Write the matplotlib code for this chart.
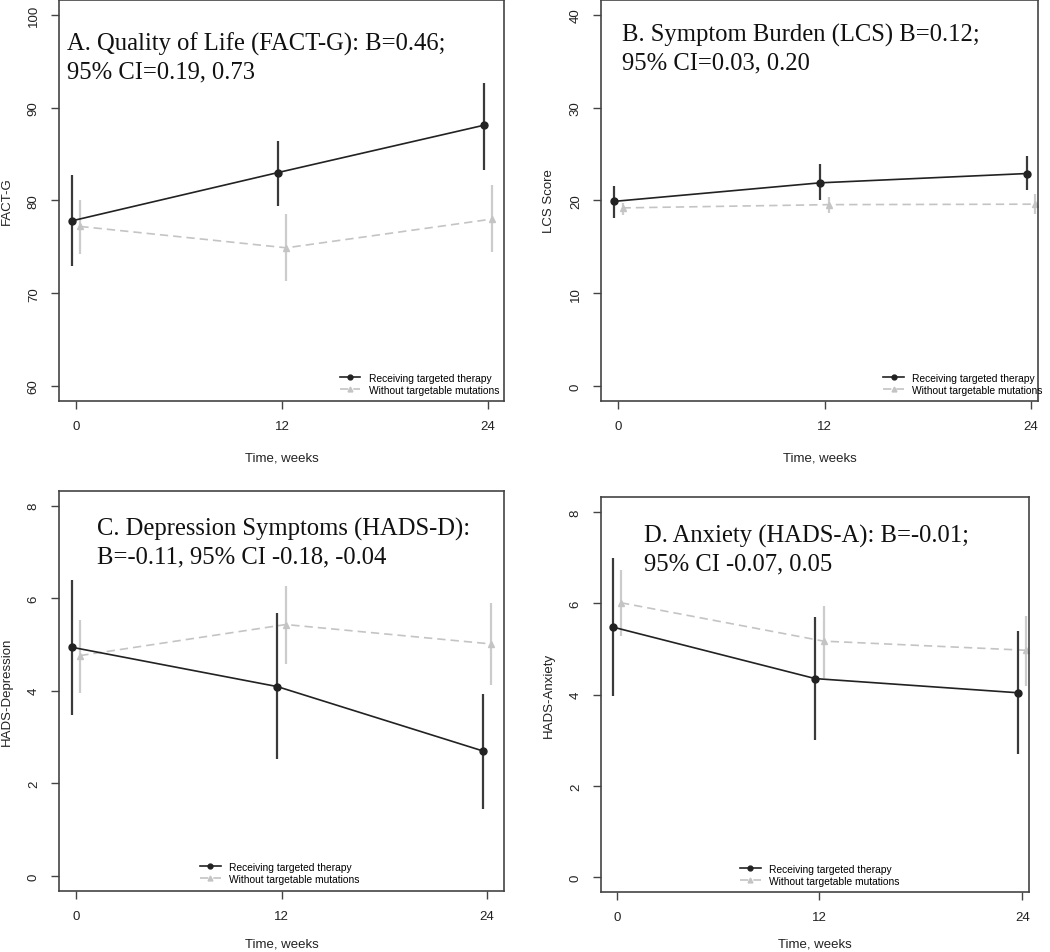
import matplotlib
matplotlib.use("Agg")
import matplotlib.pyplot as plt
import numpy as np

plt.rcParams['font.family'] = ['Liberation Sans', 'DejaVu Sans']

weeks = np.array([0, 12, 24])
labels = ['Receiving targeted therapy', 'Without targetable mutations']

# A. FACT-G
qol_tt = [77.8, 83.0, 88.1]
qol_tt_lo = [72.9, 79.4, 83.3]
qol_tt_hi = [82.7, 86.4, 92.7]
qol_wo = [77.2, 74.9, 78.0]
qol_wo_lo = [74.2, 71.3, 74.4]
qol_wo_hi = [80.0, 78.5, 81.7]

# B. LCS
lcs_tt = [19.9, 21.9, 22.9]
lcs_tt_lo = [18.1, 20.0, 21.1]
lcs_tt_hi = [21.6, 23.9, 24.8]
lcs_wo = [19.2, 19.55, 19.6]
lcs_wo_lo = [18.4, 18.65, 18.55]
lcs_wo_hi = [19.75, 20.4, 20.7]

# C. HADS-D
dep_tt = [4.94, 4.09, 2.70]
dep_tt_lo = [3.48, 2.52, 1.45]
dep_tt_hi = [6.40, 5.67, 3.92]
dep_wo = [4.76, 5.43, 5.01]
dep_wo_lo = [3.95, 4.58, 4.12]
dep_wo_hi = [5.52, 6.27, 5.90]

# D. HADS-A
anx_tt = [5.48, 4.35, 4.04]
anx_tt_lo = [3.97, 3.01, 2.69]
anx_tt_hi = [6.98, 5.70, 5.39]
anx_wo = [6.01, 5.17, 4.97]
anx_wo_lo = [5.28, 4.37, 4.19]
anx_wo_hi = [6.72, 5.95, 5.73]

titles = ['A. Quality of Life (FACT-G): B=0.46;\n95% CI=0.19, 0.73',
          'B. Symptom Burden (LCS) B=0.12;\n95% CI=0.03, 0.20',
          'C. Depression Symptoms (HADS-D):\nB=-0.11, 95% CI -0.18, -0.04',
          'D. Anxiety (HADS-A): B=-0.01;\n95% CI -0.07, 0.05']
ylabels = ['FACT-G', 'LCS Score', 'HADS-Depression', 'HADS-Anxiety']
yticks = [[60, 70, 80, 90, 100], [0, 10, 20, 30, 40], [0, 2, 4, 6, 8], [0, 2, 4, 6, 8]]

panels = [
    (qol_tt, qol_tt_lo, qol_tt_hi, qol_wo, qol_wo_lo, qol_wo_hi),
    (lcs_tt, lcs_tt_lo, lcs_tt_hi, lcs_wo, lcs_wo_lo, lcs_wo_hi),
    (dep_tt, dep_tt_lo, dep_tt_hi, dep_wo, dep_wo_lo, dep_wo_hi),
    (anx_tt, anx_tt_lo, anx_tt_hi, anx_wo, anx_wo_lo, anx_wo_hi),
]

# layout (pixel-derived)
rects = [[0.0562, 0.5782, 0.4238, 0.4208],
         [0.5724, 0.5782, 0.4162, 0.4208],
         [0.0562, 0.0643, 0.4238, 0.4197],
         [0.5724, 0.0630, 0.4076, 0.4142]]
xlims = [(-0.99, 24.93), (-1.0, 24.42), (-0.99, 24.99), (-0.93, 24.4)]
ylims = [(58.4, 101.6), (-1.6, 41.6), (-0.32, 8.32), (-0.32, 8.32)]
title_pos = [(0.018, 0.922), (0.047, 0.942), (0.085, 0.934), (0.10, 0.932)]
leg_pos = [(0.631, 0.015), (0.646, 0.015), (0.317, 0.017), (0.325, 0.015)]
xlabelpads = [14, 14, 11, 10]

fig = plt.figure(figsize=(10.5, 9.53), dpi=100)

for i, (tt, tt_lo, tt_hi, wo, wo_lo, wo_hi) in enumerate(panels):
    ax = fig.add_axes(rects[i])
    tt = np.array(tt); wo = np.array(wo)
    x1 = weeks - 0.25
    x2 = weeks + 0.25
    ax.vlines(x1, tt_lo, tt_hi, color='#3a3a3a', lw=1.6, zorder=2)
    ax.vlines(x2, wo_lo, wo_hi, color='#cccccc', lw=1.6, zorder=1)
    ax.plot(x1, tt, '-', color='#222222', lw=1.2, marker='o', ms=5,
            label=labels[0], zorder=3)
    ax.plot(x2, wo, '--', color='#c4c4c4', lw=1.2, marker='^', ms=5,
            dashes=(5, 3), label=labels[1], zorder=1.5)
    ax.set_xlim(xlims[i])
    ax.set_ylim(ylims[i])
    ax.set_xticks(weeks)
    ax.set_yticks(yticks[i])
    ax.set_xticklabels(['0', '12', '24'])
    for lab in ax.get_yticklabels():
        lab.set_rotation(90)
        lab.set_va('center')
    ax.tick_params(axis='both', length=5.8, width=1.0, color='#444444',
                   labelsize=9.5, labelcolor='#222222', pad=8)
    for s in ax.spines.values():
        s.set_color('#444444')
        s.set_linewidth(1.2)
    ax.set_xlabel('Time, weeks', fontsize=9.5, color='#222222', labelpad=xlabelpads[i])
    ax.set_ylabel(ylabels[i], fontsize=9.5, color='#222222', labelpad=11)
    ax.text(title_pos[i][0], title_pos[i][1], titles[i], transform=ax.transAxes,
            family='Liberation Serif', fontsize=17.7, va='top', ha='left',
            linespacing=1.33, color='#111111')
    leg = ax.legend(loc='lower left', bbox_to_anchor=leg_pos[i], frameon=False,
                    fontsize=7.4, handlelength=2.0, handletextpad=0.8,
                    labelspacing=0.2, borderpad=0, borderaxespad=0,
                    markerscale=0.7)

fig.savefig('out.png', dpi=100)
